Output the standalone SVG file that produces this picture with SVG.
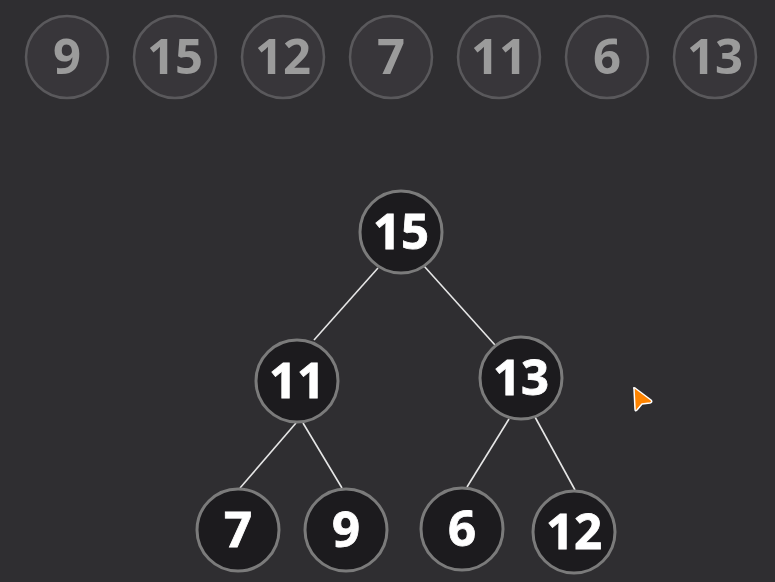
<svg xmlns="http://www.w3.org/2000/svg" width="775" height="582" viewBox="0 0 775 582">
<defs>
<style>
.arr circle{fill:#38363a;stroke:#5a595c;stroke-width:2.5}
.arr text{fill:#9b9b9b;font-family:"Open Sans","Noto Sans",sans-serif;font-weight:700;font-size:49px;text-anchor:middle}
.node circle{fill:#1c1b1e;stroke:#7b7b7b;stroke-width:3}
.node text{fill:#ffffff;font-family:"Open Sans","Noto Sans",sans-serif;font-weight:700;font-size:49px;text-anchor:middle;stroke:#ffffff;stroke-width:0.8}
.edges line{stroke:#e6e6e6;stroke-width:1.6}
</style>
</defs>
<rect width="775" height="582" fill="#2f2e31"/>
<g id="array">
<g id="a0" class="arr"><circle cx="67" cy="57" r="41"/><text x="67" y="74">9</text></g>
<g id="a1" class="arr"><circle cx="175" cy="57" r="41"/><text x="175" y="74">15</text></g>
<g id="a2" class="arr"><circle cx="283" cy="57" r="41"/><text x="283" y="74">12</text></g>
<g id="a3" class="arr"><circle cx="391" cy="57" r="41"/><text x="391" y="74">7</text></g>
<g id="a4" class="arr"><circle cx="499" cy="57" r="41"/><text x="499" y="74">11</text></g>
<g id="a5" class="arr"><circle cx="607" cy="57" r="41"/><text x="607" y="74">6</text></g>
<g id="a6" class="arr"><circle cx="715" cy="57" r="41"/><text x="715" y="74">13</text></g>
</g>
<g id="connectors" class="edges">
<line x1="378" y1="268" x2="314" y2="340"/>
<line x1="424" y1="266" x2="495" y2="345"/>
<line x1="296" y1="423" x2="240" y2="488"/>
<line x1="303" y1="423" x2="342" y2="488"/>
<line x1="509" y1="419" x2="467" y2="487"/>
<line x1="535" y1="417" x2="575" y2="490"/>
</g>
<g id="n15" class="node"><circle cx="401" cy="232" r="41"/><text x="401" y="249">15</text></g>
<g id="n11" class="node"><circle cx="297" cy="381" r="41"/><text x="297" y="398">11</text></g>
<g id="n13" class="node"><circle cx="521" cy="378" r="41"/><text x="521" y="395">13</text></g>
<g id="n7" class="node"><circle cx="238" cy="530" r="41"/><text x="238" y="547">7</text></g>
<g id="n9" class="node"><circle cx="346" cy="530" r="41"/><text x="346" y="547">9</text></g>
<g id="n6" class="node"><circle cx="462" cy="529" r="41"/><text x="462" y="546">6</text></g>
<g id="n12" class="node"><circle cx="574" cy="532" r="41"/><text x="574" y="549">12</text></g>
<path id="cursor" d="M634,389 Q633,387 635,388 L651,400 Q653,402 650,403 L642,404 L637,410 Q635,412 635,409 Z" fill="#ff8400" stroke="#ffffff" stroke-width="1.5" stroke-linejoin="round"/>
</svg>
